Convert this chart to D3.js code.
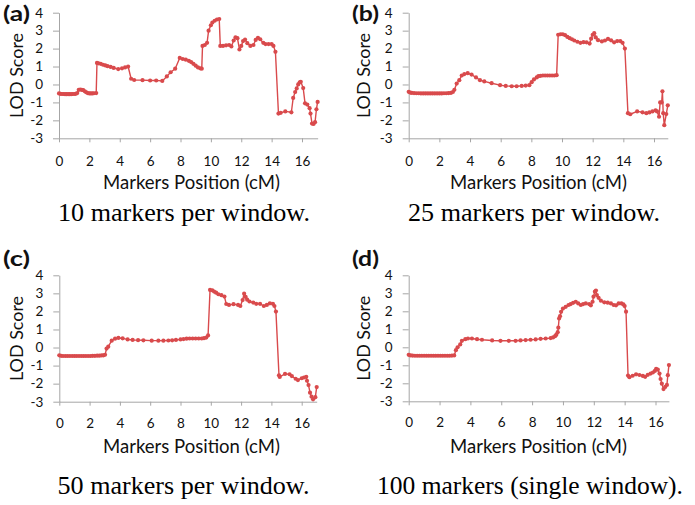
<!DOCTYPE html>
<html><head><meta charset="utf-8">
<script src="https://cdn.jsdelivr.net/npm/d3@7"></script>
<style>body{margin:0;background:#fff}svg{display:block}</style>
</head><body>
<svg id="chart" width="695" height="505"></svg>
<script>
// ---- data ----
const xTickValues = [0, 2, 4, 6, 8, 10, 12, 14, 16];
const yTickValues = [-3, -2, -1, 0, 1, 2, 3, 4];
const panelLabels = ["(a)", "(b)", "(c)", "(d)"];
const captions = ["10 markers per window.", "25 markers per window.", "50 markers per window.", "100 markers (single window)."];
const yTitle = "LOD Score";
const xTitle = "Markers Position (cM)";

const lod10 = [[0,-0.5],[0.1,-0.52],[0.2,-0.53],[0.3,-0.53],[0.4,-0.54],[0.5,-0.54],[0.6,-0.54],[0.7,-0.54],[0.8,-0.54],[0.9,-0.53],[1.0,-0.53],[1.1,-0.52],[1.2,-0.48],[1.3,-0.3],[1.4,-0.28],[1.5,-0.3],[1.6,-0.32],[1.7,-0.38],[1.8,-0.44],[1.9,-0.48],[2.0,-0.5],[2.1,-0.5],[2.2,-0.5],[2.3,-0.49],[2.45,-0.48],[2.5,1.2],[2.6,1.18],[2.75,1.15],[2.9,1.1],[3.05,1.06],[3.2,1.02],[3.4,0.98],[3.6,0.92],[3.9,0.86],[4.15,0.9],[4.35,0.95],[4.55,1.0],[4.75,0.32],[4.95,0.25],[5.5,0.24],[6.0,0.22],[6.4,0.22],[6.8,0.2],[7.1,0.45],[7.35,0.68],[7.65,0.88],[7.95,1.48],[8.15,1.42],[8.35,1.38],[8.55,1.32],[8.7,1.25],[8.85,1.15],[9.0,1.05],[9.15,0.95],[9.3,0.9],[9.4,0.88],[9.45,2.15],[9.6,2.2],[9.75,2.32],[9.85,3.0],[10.0,3.3],[10.1,3.45],[10.25,3.55],[10.4,3.62],[10.55,3.65],[10.62,2.15],[10.8,2.15],[11.0,2.18],[11.2,2.2],[11.35,2.12],[11.5,2.45],[11.62,2.62],[11.75,2.58],[11.88,1.95],[12.0,2.15],[12.12,2.42],[12.25,2.5],[12.4,2.3],[12.6,2.15],[12.8,2.2],[12.95,2.48],[13.1,2.6],[13.25,2.52],[13.45,2.32],[13.6,2.25],[13.8,2.25],[14.0,2.25],[14.12,2.15],[14.25,1.82],[14.45,-1.62],[14.6,-1.58],[14.9,-1.5],[15.3,-1.55],[15.42,-0.75],[15.55,-0.42],[15.65,-0.22],[15.75,0.0],[15.85,0.12],[15.92,0.15],[16.08,-0.2],[16.2,-1.05],[16.35,-1.12],[16.5,-1.32],[16.56,-1.62],[16.66,-2.18],[16.76,-2.2],[16.86,-2.1],[16.95,-1.38],[17.03,-0.97]];

const lod25 = [[0,-0.41],[0.1,-0.45],[0.2,-0.47],[0.35,-0.48],[0.5,-0.49],[0.65,-0.49],[0.8,-0.5],[0.95,-0.5],[1.1,-0.5],[1.25,-0.5],[1.4,-0.5],[1.55,-0.5],[1.7,-0.5],[1.85,-0.5],[2.0,-0.5],[2.15,-0.5],[2.3,-0.49],[2.45,-0.49],[2.6,-0.48],[2.75,-0.47],[2.88,-0.42],[2.98,-0.3],[3.13,0.05],[3.3,0.24],[3.46,0.5],[3.63,0.58],[3.85,0.63],[4.1,0.55],[4.39,0.39],[4.65,0.24],[4.93,0.17],[5.41,0.07],[5.96,-0.04],[6.33,-0.08],[6.72,-0.1],[7.04,-0.1],[7.37,-0.08],[7.63,-0.06],[7.87,-0.04],[8.02,0.13],[8.17,0.28],[8.35,0.39],[8.46,0.46],[8.6,0.48],[8.75,0.5],[8.9,0.5],[9.05,0.5],[9.2,0.5],[9.35,0.5],[9.5,0.5],[9.65,0.52],[9.75,2.77],[9.9,2.8],[10.05,2.8],[10.2,2.75],[10.35,2.65],[10.5,2.58],[10.65,2.52],[10.8,2.45],[11.0,2.38],[11.2,2.32],[11.4,2.36],[11.6,2.35],[11.8,2.28],[11.9,2.55],[12.0,2.77],[12.1,2.86],[12.2,2.62],[12.35,2.47],[12.6,2.4],[12.8,2.45],[13.0,2.54],[13.2,2.46],[13.4,2.35],[13.6,2.42],[13.8,2.42],[13.95,2.32],[14.1,2.0],[14.3,-1.6],[14.45,-1.66],[14.9,-1.5],[15.25,-1.55],[15.5,-1.6],[15.7,-1.56],[15.9,-1.5],[16.1,-1.44],[16.2,-1.5],[16.33,-1.8],[16.4,-1.0],[16.5,-1.0],[16.55,-0.38],[16.6,-1.6],[16.67,-2.27],[16.8,-1.65],[16.9,-1.16]];

const lod50 = [[0,-0.43],[0.12,-0.46],[0.25,-0.47],[0.4,-0.47],[0.55,-0.47],[0.7,-0.47],[0.85,-0.47],[1.0,-0.47],[1.15,-0.47],[1.3,-0.47],[1.45,-0.47],[1.6,-0.47],[1.75,-0.47],[1.9,-0.47],[2.05,-0.47],[2.2,-0.46],[2.35,-0.46],[2.5,-0.45],[2.65,-0.45],[2.8,-0.44],[2.92,-0.43],[3.02,-0.4],[3.12,-0.06],[3.23,0.05],[3.46,0.38],[3.68,0.49],[3.9,0.53],[4.18,0.51],[4.51,0.45],[4.84,0.42],[5.2,0.41],[5.55,0.4],[6.1,0.38],[6.54,0.38],[6.87,0.38],[7.2,0.39],[7.45,0.4],[7.7,0.42],[8.0,0.45],[8.2,0.47],[8.4,0.49],[8.6,0.5],[8.8,0.5],[9.0,0.5],[9.2,0.5],[9.4,0.5],[9.55,0.52],[9.7,0.55],[9.82,0.67],[9.95,3.19],[10.1,3.17],[10.22,3.1],[10.35,3.04],[10.5,2.95],[10.7,2.9],[10.9,2.82],[11.02,2.41],[11.2,2.36],[11.5,2.4],[11.8,2.36],[11.95,2.3],[12.1,2.63],[12.2,2.98],[12.3,2.8],[12.4,2.65],[12.55,2.55],[12.8,2.49],[13.0,2.42],[13.25,2.42],[13.5,2.3],[13.7,2.36],[13.9,2.45],[14.1,2.42],[14.2,2.3],[14.3,1.99],[14.5,-1.54],[14.55,-1.63],[14.9,-1.46],[15.2,-1.48],[15.35,-1.58],[15.6,-1.73],[15.75,-1.8],[16.0,-1.7],[16.15,-1.66],[16.3,-1.62],[16.35,-1.84],[16.45,-2.08],[16.55,-2.5],[16.65,-2.72],[16.75,-2.87],[16.9,-2.75],[16.99,-2.19]];

const lod100 = [[0,-0.42],[0.12,-0.45],[0.25,-0.46],[0.4,-0.47],[0.55,-0.47],[0.7,-0.47],[0.85,-0.47],[1.0,-0.47],[1.15,-0.47],[1.3,-0.47],[1.45,-0.47],[1.6,-0.47],[1.75,-0.47],[1.9,-0.47],[2.05,-0.47],[2.2,-0.47],[2.35,-0.47],[2.5,-0.47],[2.65,-0.47],[2.8,-0.46],[2.95,-0.45],[3.06,-0.16],[3.17,0.0],[3.34,0.16],[3.45,0.36],[3.67,0.45],[3.84,0.49],[4.1,0.49],[4.43,0.45],[4.75,0.42],[5.41,0.38],[5.95,0.36],[6.49,0.36],[6.93,0.36],[7.25,0.38],[7.58,0.4],[7.9,0.42],[8.23,0.44],[8.55,0.47],[8.88,0.49],[9.2,0.51],[9.36,0.55],[9.49,0.62],[9.57,0.7],[9.66,0.84],[9.7,1.09],[9.75,1.6],[9.81,1.73],[9.88,1.97],[10.0,2.15],[10.18,2.25],[10.36,2.35],[10.5,2.4],[10.66,2.47],[10.83,2.53],[10.99,2.44],[11.16,2.35],[11.31,2.4],[11.48,2.44],[11.7,2.4],[11.81,2.33],[11.92,2.53],[11.98,2.81],[12.07,3.09],[12.14,3.15],[12.2,2.9],[12.31,2.75],[12.46,2.59],[12.68,2.5],[12.9,2.48],[13.11,2.44],[13.29,2.35],[13.44,2.33],[13.61,2.44],[13.79,2.44],[13.92,2.38],[14.0,2.29],[14.09,1.98],[14.22,-1.57],[14.31,-1.66],[14.52,-1.58],[14.74,-1.5],[14.96,-1.54],[15.18,-1.59],[15.33,-1.64],[15.5,-1.53],[15.68,-1.46],[15.83,-1.4],[15.96,-1.31],[16.04,-1.2],[16.15,-1.24],[16.26,-1.46],[16.33,-1.76],[16.41,-2.02],[16.52,-2.32],[16.63,-2.2],[16.74,-2.09],[16.8,-1.55],[16.87,-0.99]];

const seriesList = [lod10, lod25, lod50, lod100];

// ---- layout ----
const layout = [
  {x0: 59,    x16: 302,   yTop: 12.7,  yBot: 138.3, lblX: 3,   lblY: 21,  ytX: 23.3, titleX: 191.5, titleY: 189.3, capX: 184,   capY: 221, capW: 252, tickPad: 14.5},
  {x0: 408.7, x16: 654,   yTop: 12.7,  yBot: 138.3, lblX: 352, lblY: 21,  ytX: 370,  titleX: 538.5, titleY: 189.3, capX: 534,   capY: 221, capW: 252, tickPad: 14.5},
  {x0: 59.3,  x16: 301.7, yTop: 275.3, yBot: 401.7, lblX: 3,   lblY: 266, ytX: 23.3, titleX: 191.5, titleY: 453.3, capX: 183.5, capY: 494, capW: 252, tickPad: 12.5},
  {x0: 408.7, x16: 655.5, yTop: 275.3, yBot: 401.3, lblX: 352, lblY: 266, ytX: 370,  titleX: 538.5, titleY: 453.3, capX: 530,   capY: 494, capW: 306, tickPad: 12.5}
];

const RED = "#d94a4c", AXIS = "#a6a6a6";
const SANS = "Lato, 'Open Sans', sans-serif";
const SERIF = "'Liberation Serif', 'DejaVu Serif', serif";
const svg = d3.select("#chart");

function fitWidth(sel, w) {
  const n = sel.node();
  const fs = parseFloat(sel.attr("font-size"));
  const cur = n.getComputedTextLength();
  if (cur > 0) sel.attr("font-size", (fs * w / cur).toFixed(2));
}

seriesList.forEach((data, i) => {
  const L = layout[i];
  const maxX = d3.max(data, d => d[0]);
  const ppc = (L.x16 - L.x0) / 16;
  const x = d3.scaleLinear().domain([0, maxX]).range([L.x0, L.x0 + ppc * maxX]);
  const y = d3.scaleLinear().domain([-3, 4]).range([L.yBot, L.yTop]);
  const g = svg.append("g");

  // y axis
  const ya = g.append("g").attr("transform", `translate(${L.x0},0)`)
    .call(d3.axisLeft(y).tickValues(yTickValues).tickSize(6).tickSizeOuter(0).tickPadding(10).tickFormat(d3.format("d")));
  // x axis
  const xa = g.append("g").attr("transform", `translate(0,${L.yBot})`)
    .call(d3.axisBottom(x).tickValues(xTickValues).tickSize(4).tickSizeOuter(0).tickPadding(L.tickPad).tickFormat(d3.format("d")));
  [ya, xa].forEach(a => {
    a.select(".domain").attr("stroke", AXIS).attr("stroke-width", 1);
    a.selectAll(".tick line").attr("stroke", AXIS).attr("stroke-width", 1);
    a.selectAll(".tick text").attr("fill", "#111").attr("font-family", SANS).attr("font-size", 13.5);
  });
  ya.selectAll(".tick text").text(d => d < 0 ? "-" + Math.abs(d) : d);

  // line + markers
  const line = d3.line().x(d => x(d[0])).y(d => y(d[1]));
  g.append("path").datum(data).attr("d", line)
    .attr("fill", "none").attr("stroke", RED).attr("stroke-width", 1.4).attr("stroke-linejoin", "round");
  g.selectAll("circle").data(data).join("circle")
    .attr("cx", d => x(d[0])).attr("cy", d => y(d[1])).attr("r", 2.1).attr("fill", RED);

  // panel label
  g.append("text").attr("x", L.lblX).attr("y", L.lblY)
    .attr("font-family", SANS).attr("font-weight", "bold").attr("font-size", 20).attr("fill", "#111")
    .attr("textLength", 27).attr("lengthAdjust", "spacingAndGlyphs")
    .text(panelLabels[i]);

  // y title
  g.append("text")
    .attr("transform", `translate(${L.ytX},${(L.yTop + L.yBot) / 2}) rotate(-90)`)
    .attr("text-anchor", "middle").attr("font-family", SANS).attr("font-size", 18).attr("fill", "#111")
    .attr("textLength", 85).attr("lengthAdjust", "spacingAndGlyphs")
    .text(yTitle);

  // x title
  const xt = g.append("text").attr("x", L.titleX).attr("y", L.titleY)
    .attr("text-anchor", "middle").attr("font-family", SANS).attr("font-size", 17).attr("fill", "#111")
    .text(xTitle);
  fitWidth(xt, 177);

  // caption
  const cp = g.append("text").attr("x", L.capX).attr("y", L.capY)
    .attr("text-anchor", "middle").attr("font-family", SERIF).attr("font-size", 24).attr("fill", "#000")
    .text(captions[i]);
  fitWidth(cp, L.capW);
});
</script>
</body></html>
